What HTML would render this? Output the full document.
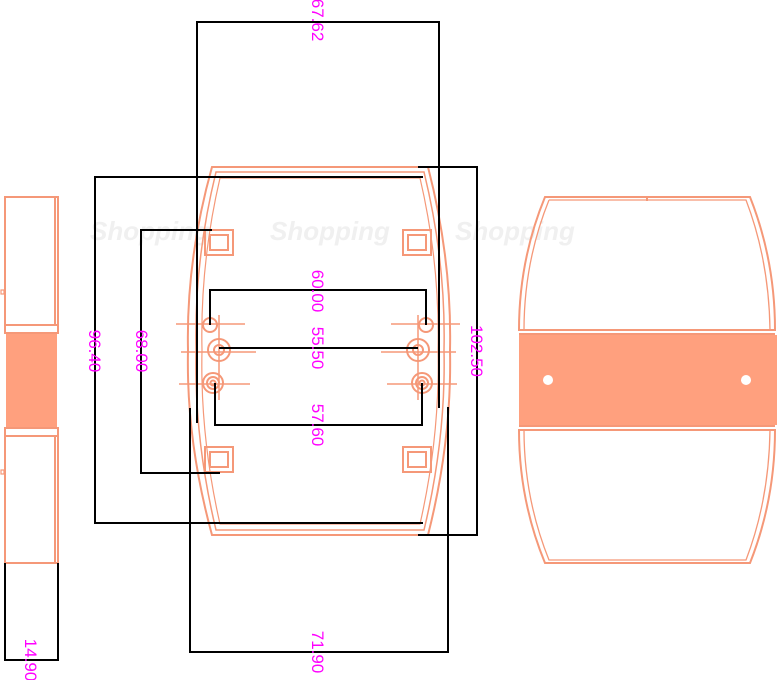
<!DOCTYPE html>
<html><head><meta charset="utf-8"><style>
html,body{margin:0;padding:0;background:#fff;}
svg{display:block}
</style></head><body>
<svg width="777" height="680" viewBox="0 0 777 680" xmlns="http://www.w3.org/2000/svg">
<g font-family="Liberation Sans, sans-serif" font-size="26" font-style="italic" font-weight="bold" fill="#f0f0f0">
<text x="90" y="240">Shopping</text>
<text x="270" y="240">Shopping</text>
<text x="455" y="240">Shopping</text>
</g>
<g fill="none" stroke="#f59878" stroke-width="2">
<rect x="5" y="197" width="53" height="128"/>
<line x1="55" y1="197" x2="55" y2="325"/>
<rect x="5" y="325" width="53" height="8"/>
<rect x="5" y="428" width="53" height="8"/>
<rect x="5" y="436" width="53" height="127"/>
<line x1="55" y1="436" x2="55" y2="563"/>
<rect x="1" y="290" width="3" height="4" stroke-width="1.2"/>
<rect x="1" y="470" width="3" height="4" stroke-width="1.2"/>
<path d="M545,197 H750 Q775,260 775,330 H519 Q519,260 545,197 Z"/>
<path d="M549,200 H746 Q769,260 770,330 M524,330 Q524,262 549,200" stroke-width="1.3"/>
<path d="M519,430 H775 Q775,500 750,563 H545 Q519,500 519,430 Z"/>
<path d="M524,430 Q524,498 549,560 H746 Q769,500 770,430" stroke-width="1.3"/>
<line x1="647" y1="197" x2="647" y2="201"/>
<line x1="519" y1="334" x2="775" y2="334"/>
<line x1="519" y1="426" x2="775" y2="426"/>
<path d="M212,167 H428 Q452,260 450,350 Q452,440 428,535 H212 Q186,440 188,350 Q186,260 212,167 Z"/>
<path d="M216,172 H424 Q446,262 444,350 Q446,438 424,530 H216 Q194,438 196,350 Q194,262 216,172 Z" stroke-width="1.5"/>
<path d="M220,178 H420 Q440,264 438,350 Q440,436 420,524 H220 Q200,436 202,350 Q200,264 220,178 Z" stroke-width="1.2"/>
<rect x="205" y="230" width="28" height="25"/><rect x="210" y="235" width="18" height="15"/>
<rect x="403" y="230" width="28" height="25"/><rect x="408" y="235" width="18" height="15"/>
<rect x="205" y="447" width="28" height="25"/><rect x="210" y="452" width="18" height="15"/>
<rect x="403" y="447" width="28" height="25"/><rect x="408" y="452" width="18" height="15"/>
<circle cx="210" cy="325" r="7"/>
<circle cx="219" cy="350" r="11"/><circle cx="219" cy="350" r="5"/>
<circle cx="213" cy="383" r="10"/><circle cx="213" cy="383" r="6"/><circle cx="213" cy="383" r="2.5"/>
<circle cx="426" cy="325" r="7"/>
<circle cx="418" cy="350" r="11"/><circle cx="418" cy="350" r="5"/>
<circle cx="422" cy="383" r="10"/><circle cx="422" cy="383" r="6"/><circle cx="422" cy="383" r="2.5"/>
<g stroke-width="1.5">
<line x1="176" y1="324" x2="245" y2="324"/><line x1="181" y1="352" x2="256" y2="352"/><line x1="179" y1="384" x2="250" y2="384"/>
<line x1="391" y1="324" x2="460" y2="324"/><line x1="381" y1="352" x2="456" y2="352"/><line x1="387" y1="384" x2="457" y2="384"/>
<line x1="219" y1="315" x2="219" y2="400"/><line x1="418" y1="315" x2="418" y2="400"/>
</g>
</g>
<rect x="6" y="334" width="51" height="93" fill="#ffa07e"/>
<rect x="519" y="335" width="258" height="90" fill="#ffa07e"/>
<circle cx="548" cy="380" r="5" fill="#fff"/>
<circle cx="746" cy="380" r="5" fill="#fff"/>
<g fill="none" stroke="#000" stroke-width="2">
<path d="M197,423 V22 H439 V408"/>
<path d="M418,167 H477 V535 H418"/>
<path d="M423,177 H95 V523 H423"/>
<path d="M212,230 H141 V473 H220"/>
<path d="M210,325 V290 H426 V325"/>
<path d="M219,348 H418"/>
<path d="M215,383 V425 H422 V383"/>
<path d="M190,408 V652 H448 V407"/>
<path d="M5,563 V660 H58 V563"/>
</g>
<g font-family="Liberation Sans, sans-serif" font-size="17" fill="#ff00ff" text-anchor="middle">
<text transform="translate(312,20) rotate(90)" y="0">67.62</text>
<text transform="translate(471,351) rotate(90)">102.50</text>
<text transform="translate(89,351) rotate(90)">96.40</text>
<text transform="translate(136,351) rotate(90)">68.00</text>
<text transform="translate(312,291) rotate(90)">60.00</text>
<text transform="translate(312,348) rotate(90)">55.50</text>
<text transform="translate(312,425) rotate(90)">57.60</text>
<text transform="translate(312,652) rotate(90)">71.90</text>
<text transform="translate(25,660) rotate(90)">14.90</text>
</g>
</svg>
</body></html>
